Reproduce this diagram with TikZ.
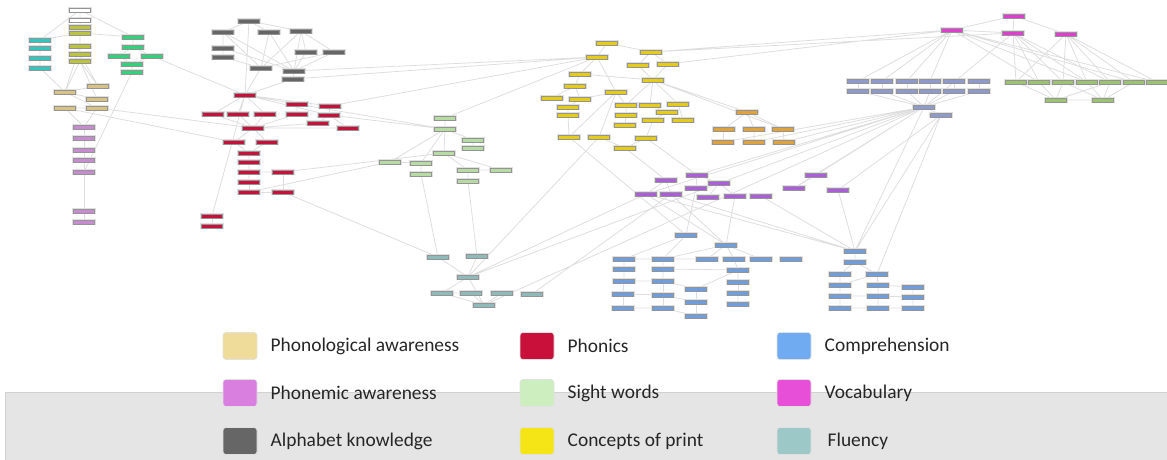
\documentclass[tikz,border=0pt]{standalone}
\usepackage{fontspec}
\setmainfont{Carlito}
\usetikzlibrary{positioning, backgrounds}

% legend colours
\definecolor{phono}{HTML}{F0DC9A}
\definecolor{phonemic}{HTML}{D97FE0}
\definecolor{alpha}{HTML}{666666}
\definecolor{phonics}{HTML}{C8103A}
\definecolor{sight}{HTML}{CDEEBE}
\definecolor{concepts}{HTML}{F5E516}
\definecolor{compre}{HTML}{70AAF0}
\definecolor{vocab}{HTML}{E84FD8}
\definecolor{fluency}{HTML}{9CC8C8}
% graph node colours
\definecolor{olv}{HTML}{BCC43C}
\definecolor{turq}{HTML}{2EC8C0}
\definecolor{grn}{HTML}{2ED47A}
\definecolor{tan}{HTML}{D8C384}
\definecolor{mauve}{HTML}{C88AD0}
\definecolor{sightn}{HTML}{B6DCA4}
\definecolor{flun}{HTML}{8EBABA}
\definecolor{mustard}{HTML}{E6CC12}
\definecolor{orng}{HTML}{E2A23A}
\definecolor{violet}{HTML}{AC5CDC}
\definecolor{bluen}{HTML}{6C9EE0}
\definecolor{slate}{HTML}{8E9ACC}
\definecolor{magn}{HTML}{E23CD2}
\definecolor{lgrn}{HTML}{9CC46E}

\begin{document}
\begin{tikzpicture}[
    x=0.5pt, y=-0.5pt,
    nd/.style={draw=black!42, line width=0.3pt, rectangle, minimum width=10.5pt, minimum height=1.9pt, inner sep=0pt,
        preaction={draw=black!12, line width=1.1pt}},
    link/.style={draw=black!13, line width=0.4pt},
    key/.style={draw=black!12, line width=0.3pt, rounded corners=1.5pt, minimum width=17pt, minimum height=13.5pt, inner sep=0pt},
    lbl/.style={inner sep=0pt, text=black!85, font=\fontsize{9.7pt}{11pt}\selectfont}
]
    \useasboundingbox (0,0) rectangle (1167,460);

    % grey band behind the lower legend rows
    \fill[black!10] (5,392) rectangle (1167,460);
    \draw[black!18, line width=0.4pt] (5,460) -- (5,392) -- (1167,392);

    % left column
    \node[nd, fill=white] (wa) at (80,10) {};
    \node[nd, fill=white] (wb) at (80,20) {};
    \node[nd, fill=olv] (ola) at (80,27) {};
    \node[nd, fill=olv] (olb) at (80,33) {};
    \node[nd, fill=olv] (olc) at (80,46) {};
    \node[nd, fill=olv] (old) at (80,54) {};
    \node[nd, fill=olv] (ole) at (80,61) {};
    \node[nd, fill=turq] (ta) at (40,40) {};
    \node[nd, fill=turq] (tb) at (40,48) {};
    \node[nd, fill=turq] (tc) at (40,58) {};
    \node[nd, fill=turq] (td) at (40,68) {};
    \node[nd, fill=grn] (ga) at (133,37) {};
    \node[nd, fill=grn] (gb) at (133,47) {};
    \node[nd, fill=grn] (gc) at (119,56) {};
    \node[nd, fill=grn] (gd) at (152,56) {};
    \node[nd, fill=grn] (ge) at (132,64) {};
    \node[nd, fill=grn] (gf) at (132,72) {};
    \node[nd, fill=tan] (pa) at (65,92) {};
    \node[nd, fill=tan] (pb) at (98,86) {};
    \node[nd, fill=tan] (pc) at (97,99) {};
    \node[nd, fill=tan] (pd) at (65,108) {};
    \node[nd, fill=tan] (pe) at (97,108) {};
    \node[nd, fill=mauve] (ma) at (84,127) {};
    \node[nd, fill=mauve] (mb) at (84,138) {};
    \node[nd, fill=mauve] (mc) at (84,150) {};
    \node[nd, fill=mauve] (md) at (84,160) {};
    \node[nd, fill=mauve] (me) at (84,172) {};
    \node[nd, fill=mauve] (mf) at (84,211) {};
    \node[nd, fill=mauve] (mg) at (84,222) {};

    % alphabet knowledge
    \node[nd, fill=alpha] (ka) at (249,21) {};
    \node[nd, fill=alpha] (kb) at (223,32) {};
    \node[nd, fill=alpha] (kc) at (269,32) {};
    \node[nd, fill=alpha] (kd) at (301,31) {};
    \node[nd, fill=alpha] (ke) at (223,48) {};
    \node[nd, fill=alpha] (kf) at (223,57) {};
    \node[nd, fill=alpha] (kg) at (306,52) {};
    \node[nd, fill=alpha] (kh) at (334,52) {};
    \node[nd, fill=alpha] (ki) at (261,68) {};
    \node[nd, fill=alpha] (kj) at (294,71) {};
    \node[nd, fill=alpha] (kk) at (293,79) {};

    % phonics
    \node[nd, fill=phonics] (ra) at (245,95) {};
    \node[nd, fill=phonics] (rb) at (297,104) {};
    \node[nd, fill=phonics] (rc) at (330,106) {};
    \node[nd, fill=phonics] (rd) at (213,114) {};
    \node[nd, fill=phonics] (re) at (238,114) {};
    \node[nd, fill=phonics] (rf) at (265,114) {};
    \node[nd, fill=phonics] (rg) at (297,114) {};
    \node[nd, fill=phonics] (rh) at (329,115) {};
    \node[nd, fill=phonics] (ri) at (318,123) {};
    \node[nd, fill=phonics] (rj) at (348,128) {};
    \node[nd, fill=phonics] (rk) at (253,128) {};
    \node[nd, fill=phonics] (rl) at (234,142) {};
    \node[nd, fill=phonics] (rm) at (267,142) {};
    \node[nd, fill=phonics] (rn) at (249,153) {};
    \node[nd, fill=phonics] (ro) at (249,162) {};
    \node[nd, fill=phonics] (rp) at (249,172) {};
    \node[nd, fill=phonics] (rq) at (283,172) {};
    \node[nd, fill=phonics] (rr) at (249,182) {};
    \node[nd, fill=phonics] (rs) at (249,192) {};
    \node[nd, fill=phonics] (rt) at (283,192) {};
    \node[nd, fill=phonics] (ru) at (212,216) {};
    \node[nd, fill=phonics] (rv) at (212,226) {};

    % sight words
    \node[nd, fill=sightn] (sa) at (445,118) {};
    \node[nd, fill=sightn] (sb) at (445,129) {};
    \node[nd, fill=sightn] (sc) at (473,140) {};
    \node[nd, fill=sightn] (sd) at (473,148) {};
    \node[nd, fill=sightn] (se) at (444,153) {};
    \node[nd, fill=sightn] (sf) at (390,162) {};
    \node[nd, fill=sightn] (sg) at (421,163) {};
    \node[nd, fill=sightn] (sh) at (421,174) {};
    \node[nd, fill=sightn] (si) at (468,170) {};
    \node[nd, fill=sightn] (sj) at (501,170) {};
    \node[nd, fill=sightn] (sk) at (468,181) {};

    % fluency
    \node[nd, fill=flun] (fa) at (438,257) {};
    \node[nd, fill=flun] (fb) at (477,256) {};
    \node[nd, fill=flun] (fc) at (468,277) {};
    \node[nd, fill=flun] (fd) at (442,293) {};
    \node[nd, fill=flun] (fe) at (471,293) {};
    \node[nd, fill=flun] (ff) at (502,293) {};
    \node[nd, fill=flun] (fg) at (532,294) {};
    \node[nd, fill=flun] (fh) at (484,305) {};

    % concepts of print
    \node[nd, fill=mustard] (y1) at (607,43) {};
    \node[nd, fill=mustard] (y2) at (651,52) {};
    \node[nd, fill=mustard] (y3) at (597,57) {};
    \node[nd, fill=mustard] (y4) at (638,65) {};
    \node[nd, fill=mustard] (y5) at (668,64) {};
    \node[nd, fill=mustard] (y6) at (580,74) {};
    \node[nd, fill=mustard] (y7) at (653,80) {};
    \node[nd, fill=mustard] (y8) at (575,86) {};
    \node[nd, fill=mustard] (y9) at (616,92) {};
    \node[nd, fill=mustard] (y10) at (552,98) {};
    \node[nd, fill=mustard] (y11) at (580,99) {};
    \node[nd, fill=mustard] (y12) at (568,107) {};
    \node[nd, fill=mustard] (y13) at (626,105) {};
    \node[nd, fill=mustard] (y14) at (650,105) {};
    \node[nd, fill=mustard] (y15) at (678,104) {};
    \node[nd, fill=mustard] (y16) at (667,112) {};
    \node[nd, fill=mustard] (y17) at (568,115) {};
    \node[nd, fill=mustard] (y18) at (626,115) {};
    \node[nd, fill=mustard] (y19) at (653,120) {};
    \node[nd, fill=mustard] (y20) at (683,120) {};
    \node[nd, fill=mustard] (y21) at (625,125) {};
    \node[nd, fill=mustard] (y22) at (569,137) {};
    \node[nd, fill=mustard] (y23) at (599,137) {};
    \node[nd, fill=mustard] (y24) at (646,138) {};
    \node[nd, fill=mustard] (y25) at (625,148) {};

    % orange group
    \node[nd, fill=orng] (oa) at (747,112) {};
    \node[nd, fill=orng] (ob) at (724,129) {};
    \node[nd, fill=orng] (oc) at (754,129) {};
    \node[nd, fill=orng] (od) at (783,129) {};
    \node[nd, fill=orng] (oe) at (723,142) {};
    \node[nd, fill=orng] (of) at (754,142) {};
    \node[nd, fill=orng] (og) at (784,142) {};

    % violet group
    \node[nd, fill=violet] (va) at (697,175) {};
    \node[nd, fill=violet] (vb) at (666,180) {};
    \node[nd, fill=violet] (vc) at (696,188) {};
    \node[nd, fill=violet] (vd) at (719,183) {};
    \node[nd, fill=violet] (ve) at (816,175) {};
    \node[nd, fill=violet] (vf) at (646,194) {};
    \node[nd, fill=violet] (vg) at (671,194) {};
    \node[nd, fill=violet] (vh) at (708,197) {};
    \node[nd, fill=violet] (vi) at (735,196) {};
    \node[nd, fill=violet] (vj) at (761,196) {};
    \node[nd, fill=violet] (vk) at (794,188) {};
    \node[nd, fill=violet] (vl) at (838,190) {};

    % comprehension, left block
    \node[nd, fill=bluen] (ba) at (686,235) {};
    \node[nd, fill=bluen] (bb) at (726,245) {};
    \node[nd, fill=bluen] (bc) at (624,259) {};
    \node[nd, fill=bluen] (bd) at (663,259) {};
    \node[nd, fill=bluen] (be) at (707,259) {};
    \node[nd, fill=bluen] (bf) at (734,259) {};
    \node[nd, fill=bluen] (bg) at (761,259) {};
    \node[nd, fill=bluen] (bh) at (791,259) {};
    \node[nd, fill=bluen] (bi) at (624,269) {};
    \node[nd, fill=bluen] (bj) at (663,269) {};
    \node[nd, fill=bluen] (bk) at (738,270) {};
    \node[nd, fill=bluen] (bl) at (624,281) {};
    \node[nd, fill=bluen] (bm) at (663,281) {};
    \node[nd, fill=bluen] (bn) at (696,289) {};
    \node[nd, fill=bluen] (bo) at (738,282) {};
    \node[nd, fill=bluen] (bp) at (623,294) {};
    \node[nd, fill=bluen] (bq) at (663,295) {};
    \node[nd, fill=bluen] (br) at (696,302) {};
    \node[nd, fill=bluen] (bs) at (738,293) {};
    \node[nd, fill=bluen] (bt) at (623,308) {};
    \node[nd, fill=bluen] (bu) at (663,308) {};
    \node[nd, fill=bluen] (bv) at (696,316) {};
    \node[nd, fill=bluen] (bw) at (738,304) {};

    % comprehension, right block
    \node[nd, fill=bluen] (qa) at (855,251) {};
    \node[nd, fill=bluen] (qb) at (855,262) {};
    \node[nd, fill=bluen] (qc) at (840,274) {};
    \node[nd, fill=bluen] (qd) at (877,274) {};
    \node[nd, fill=bluen] (qe) at (840,285) {};
    \node[nd, fill=bluen] (qf) at (878,285) {};
    \node[nd, fill=bluen] (qg) at (913,287) {};
    \node[nd, fill=bluen] (qh) at (840,296) {};
    \node[nd, fill=bluen] (qi) at (878,296) {};
    \node[nd, fill=bluen] (qj) at (913,297) {};
    \node[nd, fill=bluen] (qk) at (840,308) {};
    \node[nd, fill=bluen] (ql) at (878,308) {};
    \node[nd, fill=bluen] (qm) at (913,308) {};

    % slate block
    \node[nd, fill=slate] (na) at (858,81) {};
    \node[nd, fill=slate] (nb) at (882,81) {};
    \node[nd, fill=slate] (nc) at (907,81) {};
    \node[nd, fill=slate] (nd) at (930,81) {};
    \node[nd, fill=slate] (ne) at (954,81) {};
    \node[nd, fill=slate] (nf) at (979,81) {};
    \node[nd, fill=slate] (ng) at (858,91) {};
    \node[nd, fill=slate] (nh2) at (882,91) {};
    \node[nd, fill=slate] (ni2) at (907,91) {};
    \node[nd, fill=slate] (nj) at (930,91) {};
    \node[nd, fill=slate] (nk) at (954,91) {};
    \node[nd, fill=slate] (nl) at (979,91) {};
    \node[nd, fill=slate] (nh) at (924,107) {};
    \node[nd, fill=slate] (ni) at (941,115) {};

    % vocabulary
    \node[nd, fill=magn] (xa) at (1014,16) {};
    \node[nd, fill=magn] (xb) at (952,30) {};
    \node[nd, fill=magn] (xc) at (1013,33) {};
    \node[nd, fill=magn] (xd) at (1066,34) {};

    % light green row
    \node[nd, fill=lgrn] (la) at (1016,82) {};
    \node[nd, fill=lgrn] (lb) at (1039,82) {};
    \node[nd, fill=lgrn] (lc) at (1063,82) {};
    \node[nd, fill=lgrn] (ld) at (1087,82) {};
    \node[nd, fill=lgrn] (le) at (1110,82) {};
    \node[nd, fill=lgrn] (lf) at (1134,82) {};
    \node[nd, fill=lgrn] (lg) at (1157,82) {};
    \node[nd, fill=lgrn] (lh) at (1056,100) {};
    \node[nd, fill=lgrn] (li) at (1103,100) {};

    \begin{scope}[on background layer]
    % left column links
    \draw[link] (wa) -- (wb) (wa) -- (ta) (wa) -- (ga) (wb) -- (ola) (ola) -- (olb);
    \draw[link] (olb) -- (ta) (olb) -- (ga) (olb) -- (olc) (olc) -- (old) (old) -- (ole);
    \draw[link] (ta) -- (tb) (tb) -- (tc) (tc) -- (td) (td) -- (pa);
    \draw[link] (ole) -- (pa) (olc) -- (pa) (ole) -- (pb) (ole) -- (pc) (old) -- (pb);
    \draw[link] (pa) -- (pb) (pa) -- (pc) (pa) -- (pe) (pd) -- (pe) (pd) -- (ma) (pe) -- (ma);
    \draw[link] (ga) -- (gb) (gb) -- (gc) (gb) -- (gd) (gc) -- (ge) (gd) -- (ge) (ge) -- (gf) (gf) -- (me);
    \draw[link] (ma) -- (mb) (mb) -- (mc) (mc) -- (md) (md) -- (me) (me) -- (mf) (mf) -- (mg);
    \draw[link] (gd) -- (ra) (pe) -- (rk) (pd) -- (rl);
    % alphabet links
    \draw[link] (ka) -- (kb) (ka) -- (kc) (ka) -- (kd) (ka) -- (ra) (kb) -- (ke) (ke) -- (kf);
    \draw[link] (kb) -- (ki) (kb) -- (kj) (kc) -- (ki) (kc) -- (kj) (kd) -- (kg) (kd) -- (kh);
    \draw[link] (kd) -- (kj) (kd) -- (ki) (kg) -- (kj) (kh) -- (kj) (kh) -- (ki) (kf) -- (ki) (ke) -- (kj);
    \draw[link] (kj) -- (kk) (kk) -- (ra) (ki) -- (ra) (kj) -- (y3) (kk) -- (y3);
    % phonics links
    \draw[link] (ra) -- (rd) (ra) -- (re) (ra) -- (rf) (ra) -- (rb) (ra) -- (rc) (ra) -- (rh) (ra) -- (ru);
    \draw[link] (rb) -- (rg) (rc) -- (rh) (rd) -- (rk) (re) -- (rk) (rf) -- (rk) (rg) -- (rk);
    \draw[link] (rh) -- (ri) (ri) -- (rk) (rj) -- (rh) (rj) -- (rk) (rk) -- (rl) (rk) -- (rm);
    \draw[link] (rm) -- (rn) (rl) -- (rn) (rn) -- (ro) (ro) -- (rp) (rp) -- (rq) (rp) -- (rr);
    \draw[link] (rr) -- (rs) (rq) -- (rt) (rs) -- (rt) (ru) -- (rv);
    \draw[link] (rt) -- (fa) (rs) -- (sf) (rq) -- (se) (rb) -- (sb) (rc) -- (y3) (rh) -- (sb);
    % sight word links
    \draw[link] (sa) -- (sb) (sb) -- (sc) (sc) -- (sd) (sb) -- (se) (sb) -- (sg) (sb) -- (sf);
    \draw[link] (se) -- (si) (se) -- (sj) (sg) -- (sh) (sf) -- (sg) (si) -- (sk) (si) -- (sj);
    \draw[link] (sh) -- (fa) (sk) -- (fb) (sa) -- (y3);
    % fluency links
    \draw[link] (fa) -- (fc) (fb) -- (fc) (fc) -- (fd) (fc) -- (fh) (fd) -- (fe) (fe) -- (fh) (ff) -- (fh) (fd) -- (fh);
    \draw[link] (fc) -- (y23) (fc) -- (nh) (fh) -- (nh) (fc) -- (vf) (fg) -- (vg);
    % concepts of print links
    \draw[link] (y1) -- (y3) (y1) -- (y2) (y3) -- (y6) (y3) -- (y9) (y2) -- (y4) (y2) -- (y5);
    \draw[link] (y4) -- (y7) (y5) -- (y7) (y6) -- (y8) (y6) -- (y7) (y8) -- (y10) (y8) -- (y11);
    \draw[link] (y11) -- (y12) (y12) -- (y17) (y9) -- (y11) (y9) -- (y13) (y9) -- (y22) (y9) -- (y23);
    \draw[link] (y7) -- (y13) (y7) -- (y14) (y7) -- (y15) (y14) -- (y16) (y16) -- (y19) (y13) -- (y18);
    \draw[link] (y18) -- (y21) (y19) -- (y24) (y17) -- (y22) (y24) -- (y25) (y23) -- (y25) (y15) -- (y20);
    \draw[link] (y7) -- (oa) (y7) -- (od) (y2) -- (xb) (y5) -- (xb) (y2) -- (xc);
    \draw[link] (y24) -- (va) (y25) -- (vb) (y22) -- (ba);
    % orange links
    \draw[link] (oa) -- (ob) (oa) -- (oc) (oa) -- (od) (ob) -- (oe) (oc) -- (of) (od) -- (og);
    \draw[link] (oe) -- (nh) (of) -- (nh) (og) -- (nh);
    % violet links
    \draw[link] (va) -- (vc) (va) -- (vd) (vb) -- (vf) (vb) -- (vg) (vd) -- (vh) (vd) -- (vi) (ve) -- (vk);
    \draw[link] (vl) -- (qa) (vi) -- (bb) (vf) -- (bb) (vg) -- (bb) (vf) -- (qa) (vg) -- (qa) (vj) -- (qa);
    \draw[link] (nh) -- (vf) (nh) -- (va) (nh) -- (ve) (nh) -- (vk) (ni) -- (vl) (vc) -- (ba);
    % comprehension links
    \draw[link] (ba) -- (bc) (ba) -- (bd) (bb) -- (bd) (bb) -- (be) (bb) -- (bf) (bb) -- (bg);
    \draw[link] (bc) -- (bd) (bd) -- (be) (bc) -- (bi) (bd) -- (bj) (bf) -- (bk) (bi) -- (bl);
    \draw[link] (bj) -- (bm) (bj) -- (bk) (bm) -- (bn) (bk) -- (bo) (bk) -- (bn) (bl) -- (bp);
    \draw[link] (bm) -- (bq) (bn) -- (br) (bo) -- (bs) (bp) -- (bt) (bq) -- (bu) (br) -- (bv);
    \draw[link] (bs) -- (bw) (bq) -- (br) (bu) -- (bv) (bl) -- (bm) (bp) -- (bq) (bt) -- (bu);
    \draw[link] (qa) -- (qb) (qb) -- (qc) (qb) -- (qd) (qc) -- (qe) (qd) -- (qf) (qd) -- (qe);
    \draw[link] (qf) -- (qg) (qe) -- (qh) (qf) -- (qi) (qg) -- (qj) (qh) -- (qk) (qi) -- (ql);
    \draw[link] (qj) -- (qm) (qk) -- (ql) (ql) -- (qm) (qi) -- (qj) (qh) -- (qi);
    \draw[link] (ni) -- (qa) (nh) -- (qa) (ni) -- (qd);
    % slate links
    \draw[link] (na) -- (ng) (nb) -- (nh2) (nc) -- (ni2) (nd) -- (nj) (ne) -- (nk) (nf) -- (nl);
    \draw[link] (ng) -- (nh) (nh2) -- (nh) (ni2) -- (nh) (nj) -- (nh) (nk) -- (nh) (nl) -- (nh) (nh) -- (ni);
    \draw[link] (xb) -- (na) (xb) -- (nb) (xb) -- (nc) (xb) -- (nd) (xc) -- (nh);
    % vocabulary links
    \draw[link] (xa) -- (xb) (xa) -- (xc) (xa) -- (xd) (xb) -- (xc);
    \draw[link] (xb) -- (lb) (xb) -- (ld) (xb) -- (lf) (xb) -- (lg);
    \draw[link] (xc) -- (la) (xc) -- (lb) (xc) -- (lc) (xc) -- (ld) (xc) -- (le);
    \draw[link] (xd) -- (la) (xd) -- (lc) (xd) -- (ld) (xd) -- (le) (xd) -- (lf) (xd) -- (lg);
    \draw[link] (la) -- (lh) (lb) -- (lh) (lc) -- (lh) (lc) -- (li) (ld) -- (li) (le) -- (li);
    \draw[link] (le) -- (lh) (lf) -- (li) (lh) -- (li);
    \end{scope}

    % legend
    \node[key, fill=phono] (kphono) at (240,346) {};
    \node[lbl] (tphono) [right=6.5pt of kphono] {Phonological awareness};
    \node[key, fill=phonemic] (kphonemic) at (240,393) {};
    \node[lbl] (tphonemic) [right=6.5pt of kphonemic] {Phonemic awareness};
    \node[key, fill=alpha] (kalpha) at (240,441) {};
    \node[lbl] (talpha) [right=6.5pt of kalpha] {Alphabet knowledge};

    \node[key, fill=phonics] (kphonics) at (537,346) {};
    \node[lbl] (tphonics) [right=6.5pt of kphonics] {Phonics};
    \node[key, fill=sight] (ksight) at (537,393) {};
    \node[lbl] (tsight) [right=6.5pt of ksight] {Sight words};
    \node[key, fill=concepts] (kconcepts) at (537,441) {};
    \node[lbl] (tconcepts) [right=6.5pt of kconcepts] {Concepts of print};

    \node[key, fill=compre] (kcompre) at (794,346) {};
    \node[lbl] (tcompre) [right=6.5pt of kcompre] {Comprehension};
    \node[key, fill=vocab] (kvocab) at (794,393) {};
    \node[lbl] (tvocab) [right=6.5pt of kvocab] {Vocabulary};
    \node[key, fill=fluency] (kfluency) at (794,441) {};
    \node[lbl] (tfluency) [right=8pt of kfluency] {Fluency};
\end{tikzpicture}
\end{document}
